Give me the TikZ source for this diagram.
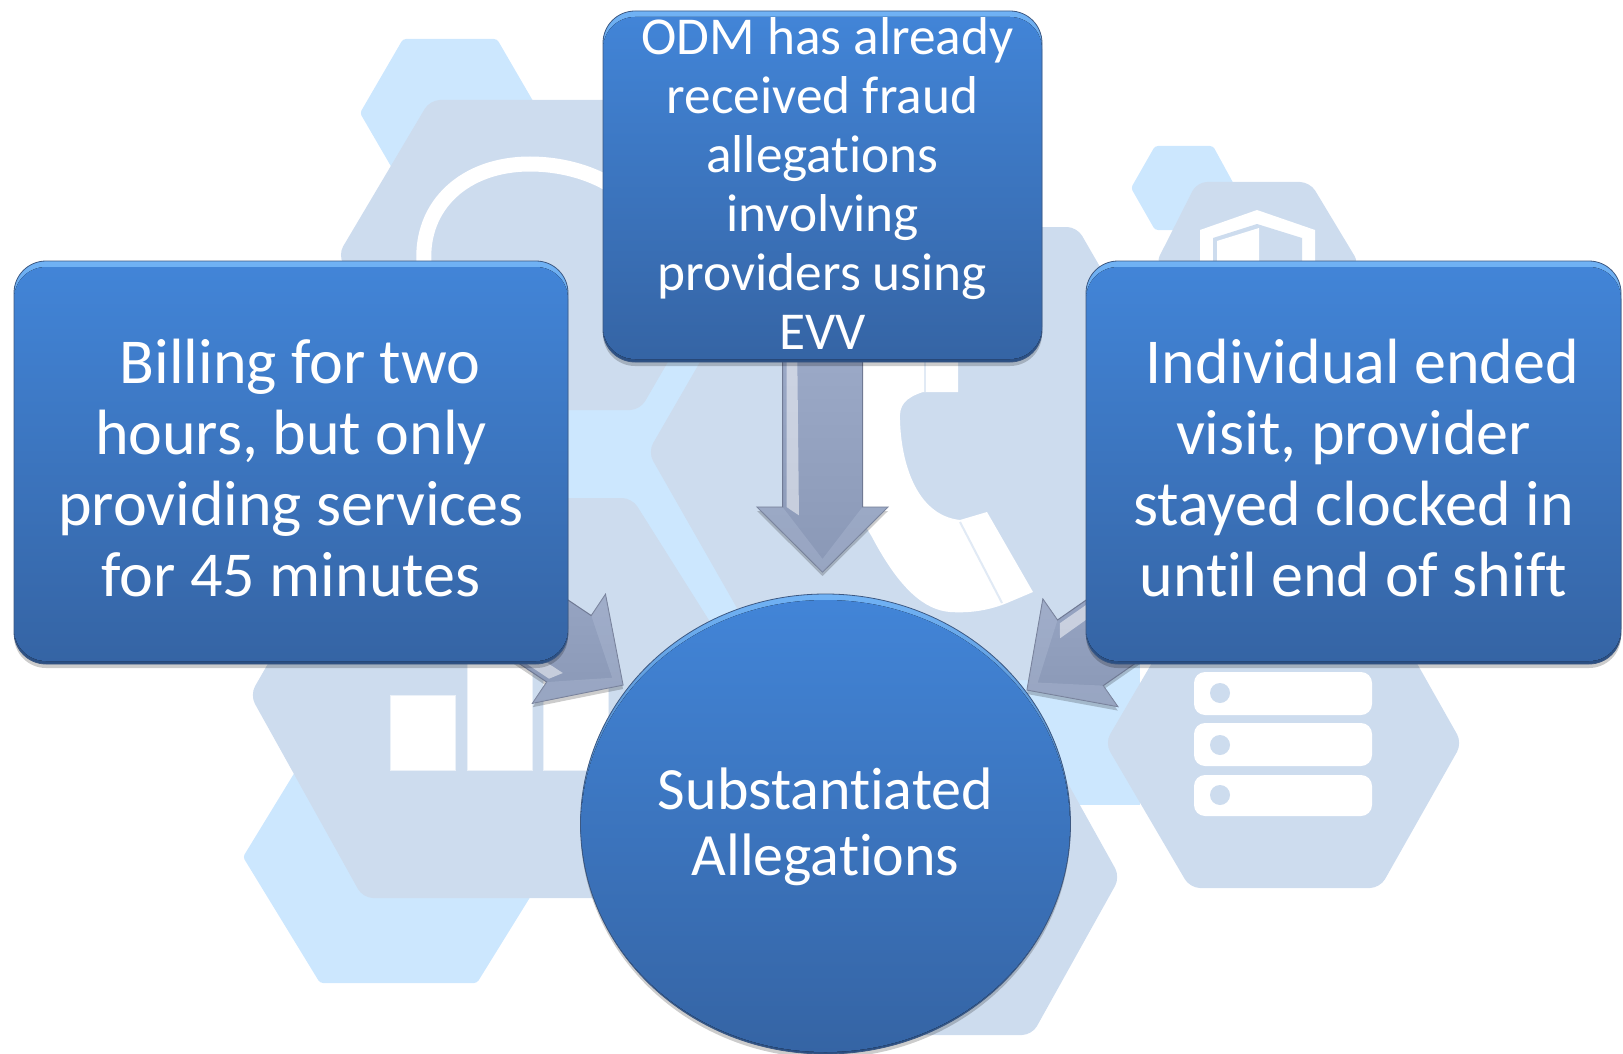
\documentclass[tikz,border=0pt]{standalone}
\usepackage{fontspec}
\setmainfont{Carlito}[Ligatures=NoCommon]
\usetikzlibrary{calc}
\usetikzlibrary{shapes.geometric}
\usetikzlibrary{shadows}

\definecolor{hexlight}{RGB}{204,231,254}
\definecolor{hexpale}{RGB}{205,220,238}
\definecolor{rimtop}{RGB}{112,178,245}
\definecolor{rimbot}{RGB}{42,78,130}
\definecolor{bodytop}{RGB}{66,133,216}
\definecolor{bodybot}{RGB}{53,100,164}
\definecolor{boxedge}{RGB}{60,88,130}
\definecolor{arrowtop}{RGB}{168,182,212}
\definecolor{arrowbot}{RGB}{138,152,182}
\definecolor{arrowedge}{RGB}{112,122,148}

\pgfdeclarelayer{backshapes}
\pgfdeclarelayer{arrows}
\pgfsetlayers{backshapes,arrows,main}

\tikzset{
  lighthex/.style={fill=hexlight, rounded corners=3pt},
  palehex/.style={fill=hexpale, rounded corners=10pt},
  iconwhite/.style={fill=white, draw=white!60!hexpale, line width=.8pt},
  softshadow/.style={drop shadow={shadow xshift=0pt, shadow yshift=-4pt, opacity=.2, fill=black}},
  bluebox/.style={rectangle, rounded corners=32pt, draw=boxedge, line width=.8pt, inner sep=0pt,
    top color=rimtop, bottom color=rimbot, text=white, align=center, softshadow,
    path picture={\fill[top color=bodytop, bottom color=bodybot, rounded corners=32pt]
      ([yshift=-6pt]path picture bounding box.north west) rectangle
      ([yshift=3pt]path picture bounding box.south east);}},
  bluecircle/.style={ellipse, draw=boxedge, line width=.8pt, inner sep=0pt,
    top color=rimtop, bottom color=rimbot, text=white, align=center, softshadow,
    path picture={\fill[top color=bodytop, bottom color=bodybot]
      ([yshift=-2pt]path picture bounding box.center) ellipse [x radius=244.5pt, y radius=226pt];}},
  bigtext/.style={font=\fontsize{64}{71}\selectfont},
  midtext/.style={font=\fontsize{53.3}{59}\selectfont},
  arrowbody/.style={top color=arrowtop, bottom color=arrowbot, draw=arrowedge, line width=1pt, softshadow},
  arrowrim/.style={fill=arrowtop!80!white, opacity=.3},
  arrowshine/.style={fill=white, opacity=.5}
}

\newcommand{\blockarrow}[2]{
  \coordinate (neck) at ($(#2)!65pt!(#1)$);
  \coordinate (inner) at ($(#2)!13pt!(#1)$);
  \coordinate (nl) at ($(neck)!40pt!-90:(#2)$);
  \coordinate (nr) at ($(neck)!40pt!90:(#2)$);
  \coordinate (bl) at ($(neck)!65.5pt!-90:(#2)$);
  \coordinate (br) at ($(neck)!65.5pt!90:(#2)$);
  \coordinate (tl) at ($(#1)!40pt!-90:(#2)$);
  \coordinate (tr) at ($(#1)!40pt!90:(#2)$);
  \coordinate (sa) at ($(#1)!36pt!-90:(#2)$);
  \coordinate (sb) at ($(#1)!27pt!-90:(#2)$);
  \coordinate (sc) at ($(neck)!36pt!-90:(#2)$);
  \coordinate (sd) at ($(neck)!27pt!-90:(#2)$);
  \draw [arrowbody] (tl) -- (nl) -- (bl) -- (#2) -- (br) -- (nr) -- (tr) -- cycle;
  \fill [arrowrim] (bl) -- (#2) -- (br) -- (nr) -- (inner) -- (nl) -- cycle;
  \fill [arrowshine] (sa) -- (sc) -- ($(sd)!9pt!(#2)$) -- (sb) -- cycle;
}

\begin{document}
\begin{tikzpicture}[x=1pt,y=-1pt]
  \useasboundingbox (0,0) rectangle (1623,1054);

  \node [bluebox, bigtext, minimum width=554pt, minimum height=403pt] (leftbox) at (291,462.5)
    {\rule{0pt}{56pt}\hspace*{18pt}Billing for two\\hours, but only\\providing services\\for 45 minutes};
  \node [bluebox, midtext, minimum width=439pt, minimum height=351pt] (topbox) at (822.5,186.5)
    {\hspace*{10pt}ODM has already\\received fraud\\allegations\\involving\\providers using\\\rule[-6pt]{0pt}{1pt}EVV};
  \node [bluebox, bigtext, minimum width=535pt, minimum height=403pt] (rightbox) at (1353.5,462.5)
    {\rule{0pt}{56pt}\hspace*{18pt}Individual ended\\visit, provider\\stayed clocked in\\until end of shift};
  \node [bluecircle, font=\fontsize{60}{66}\selectfont, minimum width=490pt, minimum height=460pt] (allegations) at (825.5,824)
    {\rule{0pt}{48pt}Substantiated\\Allegations};

  \coordinate (lefttip) at (623,685);
  \coordinate (toptip) at (822.5,572);
  \coordinate (righttip) at (1027,690);

  \begin{pgfonlayer}{arrows}
    \blockarrow{leftbox}{lefttip}
    \blockarrow{topbox}{toptip}
    \blockarrow{rightbox}{righttip}
  \end{pgfonlayer}

  \begin{pgfonlayer}{backshapes}
    % light hexagons
    \fill [lighthex] (403,39) -- (497,39) -- (540,113) -- (497,187) -- (403,187) -- (360,113) -- cycle;
    \fill [lighthex] (1155,146) -- (1213,146) -- (1236,188) -- (1213,230) -- (1155,230) -- (1131,188) -- cycle;
    \fill [lighthex] (320,731) -- (477,731) -- (555,857) -- (477,983) -- (320,983) -- (243,857) -- cycle;
    \fill [hexlight] (560,400) -- (700,340) -- (780,640) -- (700,700) -- (560,520) -- cycle;
    \fill [hexlight] (1000,664) -- (1140,664) -- (1140,805) -- (1000,805) -- cycle;

    % pale hexagons
    \fill [palehex] (430,100) -- (640,100) -- (730,255) -- (640,410) -- (430,410) -- (338,255) -- cycle;
    \fill [palehex] (363,498) -- (632,498) -- (758,698) -- (640,898) -- (363,898) -- (250,695) -- cycle;
    \fill [palehex] (778,227) -- (1077,227) -- (1207,452) -- (1077,680) -- (778,680) -- (648,452) -- cycle;
    \fill [palehex] (790,719) -- (1032,719) -- (1120,877) -- (1032,1035) -- (790,1035) -- (700,877) -- cycle;
    \fill [palehex] (1197,182) -- (1310,182) -- (1360,265) -- (1155,265) -- cycle;
    \fill [palehex] (1190,598) -- (1380,598) -- (1462,743) -- (1380,888) -- (1190,888) -- (1105,743) -- cycle;

    % headset
    \draw [white, line width=15pt] (424,264) .. controls (420,205) and (465,164) .. (530,164) .. controls (560,164) and (590,172) .. (612,186);

    % shield
    \fill [white] (1200,265) -- (1200,230) -- (1257,210) -- (1315,230) -- (1315,265) -- cycle;
    \fill [hexpale] (1213,265) -- (1213,238) -- (1257,224) -- (1302,238) -- (1302,265) -- cycle;
    \fill [white] (1217,265) -- (1217,241) -- (1259,228) -- (1259,265) -- cycle;

    % handset
    \fill [white] (830,355) -- (958,355) -- (958,392) -- (923,392) .. controls (905,398) and (899,405) .. (900,420)
      .. controls (901,460) and (915,515) .. (960,520)
      -- (987,512) -- (1033,592) -- (1007,603) .. controls (985,612) and (965,613) .. (950,612)
      .. controls (925,610) and (900,590) .. (872,537) -- (850,500) -- cycle;
    \draw [hexpale!60!white, line width=2pt] (960,522) -- (1002,603);
    \draw [hexpale!60!white, line width=2pt] (925,355) -- (925,392);

    % chart bars
    \fill [iconwhite] (390,695) rectangle (455,770);
    \fill [iconwhite] (467,650) rectangle (532,770);
    \fill [iconwhite] (543,650) rectangle (608,770);

    % server rows
    \foreach \rowtop/\rowbot/\doty in {672/715/693, 723/766/745, 775/816/795} {
      \fill [white, rounded corners=11pt] (1194,\rowtop) rectangle (1372,\rowbot);
      \fill [hexpale] (1220,\doty) circle [radius=10pt];
    }
  \end{pgfonlayer}
\end{tikzpicture}
\end{document}
